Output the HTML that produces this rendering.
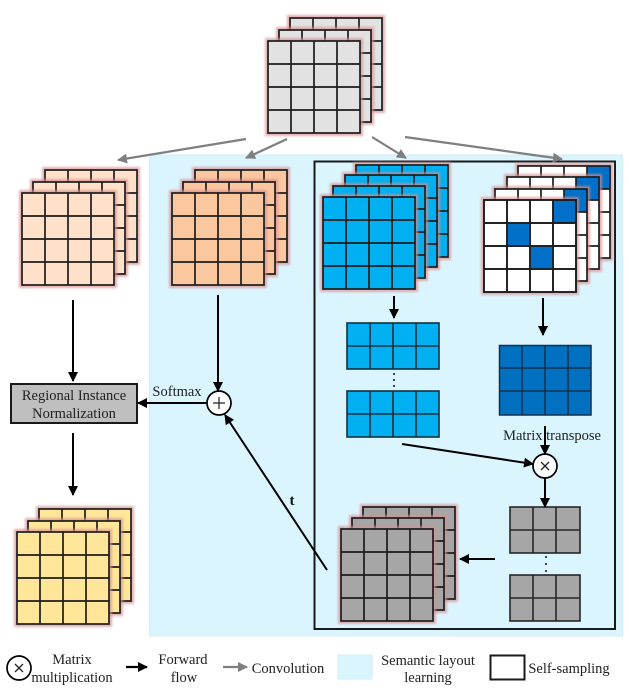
<!DOCTYPE html>
<html><head><meta charset="utf-8"><style>
html,body{margin:0;padding:0;background:#fff}
svg{display:block;filter:blur(.35px)}
text{font-family:"Liberation Serif",serif;font-size:14.500px;fill:#222;text-anchor:middle}
</style></head><body>
<svg width="629" height="688" viewBox="0 0 629 688" xmlns="http://www.w3.org/2000/svg">
<defs>
<filter id="b" x="-20%" y="-20%" width="140%" height="140%"><feGaussianBlur stdDeviation="1"/></filter>
<g id="glow"><rect x="-1" y="-1" width="94" height="94" fill="none" stroke="#d88f8f" stroke-width="4" opacity=".7" filter="url(#b)"/></g>
<g id="lines" fill="none" stroke="#1c1c1c" stroke-width="1.700"><rect width="92" height="92"/><path d="M23 0V92M46 0V92M69 0V92M0 23H92M0 46H92M0 69H92"/></g>
<g id="L"><use href="#glow"/><rect width="92" height="92"/><use href="#lines"/></g>
<g id="S"><use href="#glow"/><rect width="92" height="92" fill="#fff"/><rect x="69" width="23" height="23" fill="#0070c8"/><use href="#lines"/></g>
<g id="R42" fill="none" stroke="#12303f" stroke-width="1.600"><rect width="92" height="46"/><path d="M23 0V46M46 0V46M69 0V46M0 23H92"/></g>
<g id="R32" fill="none" stroke="#262626" stroke-width="1.600"><rect width="70" height="46"/><path d="M23 0V46M46 0V46M0 23H70"/></g>
<marker id="ak" viewBox="0 0 10 10" refX="9" refY="5" markerWidth="10" markerHeight="10" markerUnits="userSpaceOnUse" orient="auto"><path d="M0 0L10 5L0 10Z" fill="#000"/></marker>
<marker id="ag" viewBox="0 0 10 10" refX="9" refY="5" markerWidth="10" markerHeight="10" markerUnits="userSpaceOnUse" orient="auto"><path d="M0 0L10 5L0 10Z" fill="#7f7f7f"/></marker>
</defs>

<rect x="149.500" y="155" width="473" height="481" fill="#dbf5ff" stroke="#cdeefa" stroke-width="1"/>
<rect x="314.500" y="161.500" width="300.500" height="467.500" fill="none" stroke="#1a1a1a" stroke-width="2"/>

<!-- top stack -->
<use href="#L" x="290" y="18" fill="#e2e2e2"/>
<use href="#L" x="279" y="30" fill="#e2e2e2"/>
<use href="#L" x="268" y="41" fill="#e2e2e2"/>

<!-- left peach -->
<use href="#L" x="45" y="170" fill="#ffe1c9"/>
<use href="#L" x="33" y="182" fill="#ffe1c9"/>
<use href="#L" x="22" y="193" fill="#ffe1c9"/>

<!-- orange -->
<use href="#L" x="195" y="170" fill="#fbc79f"/>
<use href="#L" x="183" y="182" fill="#fbc79f"/>
<use href="#L" x="172" y="193" fill="#fbc79f"/>

<!-- blue stack -->
<use href="#L" x="356" y="165" fill="#00b0f0"/>
<use href="#L" x="345" y="175" fill="#00b0f0"/>
<use href="#L" x="333" y="186" fill="#00b0f0"/>
<use href="#L" x="323" y="197" fill="#00b0f0"/>

<!-- sparse stack -->
<use href="#S" x="518" y="166"/>
<use href="#S" x="507" y="177"/>
<use href="#S" x="495" y="189"/>
<use href="#S" x="484" y="200"/>
<rect x="507" y="223" width="23" height="23" fill="#0070c8"/>
<rect x="530" y="246" width="23" height="23" fill="#0070c8"/>
<use href="#lines" x="484" y="200"/>

<!-- blue rows -->
<rect x="347" y="323" width="92" height="46" fill="#00b0f0"/><use href="#R42" x="347" y="323"/>
<rect x="347" y="391" width="92" height="46" fill="#00b0f0"/><use href="#R42" x="347" y="391"/>
<circle cx="394" cy="374" r="1" fill="#111"/><circle cx="394" cy="380" r="1" fill="#111"/><circle cx="394" cy="386" r="1" fill="#111"/>

<!-- dark blue -->
<rect x="499" y="345" width="92" height="70" fill="#0070c0"/>
<path d="M499.500 345.500H591V415H499.500ZM522 345V415M545 345V415M568 345V415M499 368H591M499 391H591" fill="none" stroke="#12304f" stroke-width="1.500"/>

<!-- gray 3x2 -->
<rect x="510" y="507" width="70" height="46" fill="#a6a6a6"/><use href="#R32" x="510" y="507"/>
<rect x="510" y="575" width="70" height="46" fill="#a6a6a6"/><use href="#R32" x="510" y="575"/>
<circle cx="546" cy="557" r="1" fill="#111"/><circle cx="546" cy="564" r="1" fill="#111"/><circle cx="546" cy="571" r="1" fill="#111"/>

<!-- gray stack -->
<use href="#L" x="363" y="507" fill="#a6a6a6"/>
<use href="#L" x="352" y="518" fill="#a6a6a6"/>
<use href="#L" x="341" y="529" fill="#a6a6a6"/>

<!-- yellow -->
<use href="#L" x="39" y="509" fill="#ffe699"/>
<use href="#L" x="28" y="521" fill="#ffe699"/>
<use href="#L" x="17" y="532" fill="#ffe699"/>

<!-- gray arrows -->
<g stroke="#7f7f7f" stroke-width="2.200" fill="none">
<path d="M246 139L118 160" marker-end="url(#ag)"/>
<path d="M287 139L246 158" marker-end="url(#ag)"/>
<path d="M372 137L406 158" marker-end="url(#ag)"/>
<path d="M405 137L562 159" marker-end="url(#ag)"/>
</g>

<!-- RIN box -->
<rect x="11" y="384" width="126" height="39" fill="#bfbfbf" stroke="#1a1a1a" stroke-width="2"/>
<text x="74" y="400">Regional Instance</text>
<text x="74" y="418">Normalization</text>
<text x="177" y="396">Softmax</text>
<text x="552" y="440">Matrix transpose</text>
<text x="292" y="505" style="font-weight:bold;font-size:15px;fill:#111">t</text>

<!-- black arrows -->
<g stroke="#000" stroke-width="2" fill="none">
<path d="M73 300V381" marker-end="url(#ak)"/>
<path d="M73 433V495" marker-end="url(#ak)"/>
<path d="M218 295V391" marker-end="url(#ak)"/>
<path d="M207 403H138" marker-end="url(#ak)"/>
<path d="M327 570L225 415" marker-end="url(#ak)"/>
<path d="M394 296V318" marker-end="url(#ak)"/>
<path d="M543 298V335" marker-end="url(#ak)"/>
<path d="M545 426V454" marker-end="url(#ak)"/>
<path d="M402 444L533 464" marker-end="url(#ak)"/>
<path d="M545 478V507" marker-end="url(#ak)"/>
<path d="M495 559H460" marker-end="url(#ak)"/>
</g>

<!-- operators -->
<circle cx="219" cy="403" r="12" fill="#fff" stroke="#000" stroke-width="1.700"/>
<path d="M213 403H225M219 397V409" stroke="#222" stroke-width="1.200"/>
<circle cx="545" cy="466" r="12" fill="#fff" stroke="#000" stroke-width="1.700"/>
<path d="M541 462L549 470M549 462L541 470" stroke="#222" stroke-width="1.300"/>

<!-- legend -->
<circle cx="19" cy="668" r="12" fill="#fff" stroke="#000" stroke-width="1.700"/>
<path d="M15 664L23 672M23 664L15 672" stroke="#222" stroke-width="1.300"/>
<text x="72" y="664">Matrix</text>
<text x="72" y="682">multiplication</text>
<path d="M126 667H147" stroke="#000" stroke-width="2.200" marker-end="url(#ak)"/>
<text x="183" y="664">Forward</text>
<text x="184" y="682">flow</text>
<path d="M223 667H247" stroke="#7f7f7f" stroke-width="2.200" marker-end="url(#ag)"/>
<text x="288" y="673">Convolution</text>
<rect x="338" y="655" width="34" height="24" fill="#dbf5ff" stroke="#cdeefa"/>
<text x="428" y="665">Semantic layout</text>
<text x="428" y="682">learning</text>
<rect x="490.500" y="655.500" width="34" height="24" fill="#fff" stroke="#1a1a1a" stroke-width="2"/>
<text x="569" y="673">Self-sampling</text>
</svg>
</body></html>
